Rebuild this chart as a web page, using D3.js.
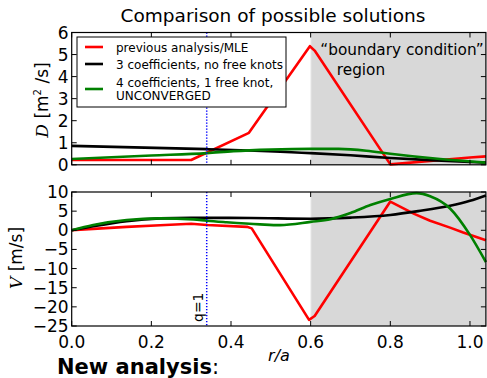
<!DOCTYPE html>
<html>
<head>
<meta charset="utf-8">
<script src="https://cdn.jsdelivr.net/npm/d3@7"></script>
<style>
  html, body { margin: 0; padding: 0; background: #fff; }
  svg { display: block; }
  text { font-family: "DejaVu Sans", sans-serif; fill: #000; }
</style>
</head>
<body>
<svg id="chart" width="487" height="378"></svg>
<script>
// Radial profiles of diffusion D and convection V, three candidate solutions.
const rTicks = [0.0, 0.2, 0.4, 0.6, 0.8, 1.0];
const dTicks = [0, 1, 2, 3, 4, 5, 6];
const vTicks = [-25, -20, -15, -10, -5, 0, 5, 10];

// previous analysis / MLE (piecewise linear)
const dPrev = [[0, 0.22], [0.30, 0.22], [0.445, 1.45], [0.598, 5.38], [0.61, 5.18], [0.80, 0.02], [1.0, 0.33], [1.04, 0.38]];
const vPrev = [[0, 0], [0.054, 0.37], [0.138, 0.9], [0.222, 1.3], [0.30, 1.7], [0.34, 1.4], [0.44, 0.9], [0.452, 0.5], [0.596, -23.4], [0.61, -22.4], [0.80, 7.5], [0.86, 4.3], [0.90, 2.5], [0.95, 0.7], [0.983, -0.6], [1.04, -2.6]];

// 3 coefficients, no free knots
const dThree = [[0, 0.86], [0.34, 0.71], [0.6, 0.53], [0.7, 0.43], [0.8, 0.31], [0.9, 0.21], [1.0, 0.13], [1.04, 0.1]];
const vThree = [[0, 0], [0.054, 1.05], [0.138, 2.4], [0.222, 3.1], [0.30, 3.25], [0.45, 3.2], [0.6, 3.0], [0.7, 3.3], [0.8, 4.0], [0.87, 5.0], [0.95, 6.4], [1.0, 7.7], [1.04, 9.1]];

// 4 coefficients, 1 free knot (unconverged)
const dFour = [[0, 0.26], [0.2, 0.42], [0.34, 0.53], [0.406, 0.62], [0.5, 0.69], [0.6, 0.72], [0.67, 0.72], [0.74, 0.64], [0.8, 0.5], [0.925, 0.26], [1.04, 0.1]];
const vFour = [[0, 0], [0.054, 1.4], [0.138, 2.7], [0.222, 3.1], [0.306, 2.85], [0.339, 2.5], [0.389, 2.1], [0.473, 1.55], [0.523, 1.35], [0.6, 2.2], [0.65, 2.9], [0.7, 4.5], [0.75, 6.6], [0.8, 8.2], [0.866, 9.7], [0.9, 8.9], [0.95, 5.7], [1.0, -1.2], [1.04, -8.3]];

const rSpan = [0.6, 1.04];   // "boundary condition" region
const qOne = 0.339;          // q = 1 surface

const legendLabels = [["previous analysis/MLE"], ["3 coefficients, no free knots"], ["4 coefficients, 1 free knot,", "UNCONVERGED"]];
const colors = ["#ff0000", "#000000", "#008000"];

const svg = d3.select("#chart");
const x = d3.scaleLinear().domain([0, 1.04]).range([71.7, 485.9]);
const yD = d3.scaleLinear().domain([0, 6]).range([164.8, 32.5]);
const yV = d3.scaleLinear().domain([-25, 10]).range([326, 192]);

function panel(y, ticks, series, curves) {
  const [y0, y1] = y.range();
  const g = svg.append("g");
  // shaded region
  g.append("rect")
    .attr("x", x(rSpan[0])).attr("y", y1)
    .attr("width", x(rSpan[1]) - x(rSpan[0])).attr("height", y0 - y1)
    .attr("fill", "#d8d8d8");
  g.append("line")
    .attr("x1", x(rSpan[0])).attr("x2", x(rSpan[0]))
    .attr("y1", y1).attr("y2", y0)
    .attr("stroke", "#f2f2f2").attr("stroke-width", 1.2);
  // curves
  series.forEach((s, i) => {
    const line = d3.line().x(d => x(d[0])).y(d => y(d[1])).curve(curves[i]);
    g.append("path").attr("d", line(s))
      .attr("fill", "none").attr("stroke", colors[i])
      .attr("stroke-width", 2.6).attr("stroke-linejoin", "round");
  });
  // q=1 marker
  g.append("line")
    .attr("x1", x(qOne)).attr("x2", x(qOne)).attr("y1", y1).attr("y2", y0)
    .attr("stroke", "#0000ff").attr("stroke-width", 1.5)
    .attr("stroke-dasharray", "1.2,1.8");
  // inward ticks on all four sides
  const tl = 5;
  rTicks.forEach(t => {
    g.append("line").attr("x1", x(t)).attr("x2", x(t)).attr("y1", y0).attr("y2", y0 - tl).attr("stroke", "#000");
    g.append("line").attr("x1", x(t)).attr("x2", x(t)).attr("y1", y1).attr("y2", y1 + tl).attr("stroke", "#000");
  });
  ticks.forEach(t => {
    g.append("line").attr("x1", x.range()[0]).attr("x2", x.range()[0] + tl).attr("y1", y(t)).attr("y2", y(t)).attr("stroke", "#000");
    g.append("line").attr("x1", x.range()[1]).attr("x2", x.range()[1] - tl).attr("y1", y(t)).attr("y2", y(t)).attr("stroke", "#000");
    g.append("text").attr("x", x.range()[0] - 3).attr("y", y(t) + 6)
      .attr("text-anchor", "end").attr("font-size", 17)
      .text(t < 0 ? "\u2212" + Math.abs(t) : t);
  });
  // frame
  g.append("rect")
    .attr("x", x.range()[0]).attr("y", y1)
    .attr("width", x.range()[1] - x.range()[0]).attr("height", y0 - y1)
    .attr("fill", "none").attr("stroke", "#000").attr("stroke-width", 1.2);
  return g;
}

const dPanel = panel(yD, dTicks, [dPrev, dThree, dFour], [d3.curveLinear, d3.curveMonotoneX, d3.curveMonotoneX]);
const vPanel = panel(yV, vTicks, [vPrev, vThree, vFour], [d3.curveLinear, d3.curveMonotoneX, d3.curveMonotoneX]);

// x tick labels on the lower panel
rTicks.forEach(t => {
  svg.append("text").attr("x", x(t)).attr("y", 348)
    .attr("text-anchor", "middle").attr("font-size", 17).text(t.toFixed(1));
});

// title
svg.append("text").attr("x", 273).attr("y", 22).attr("text-anchor", "middle")
  .attr("font-size", 18.5).text("Comparison of possible solutions");

// axis labels
const dLab = svg.append("text").attr("transform", "translate(48,100) rotate(-90)")
  .attr("text-anchor", "middle").attr("font-size", 17);
dLab.append("tspan").attr("font-family", "DejaVu Serif, serif").attr("font-style", "italic").text("D");
dLab.append("tspan").text(" [m");
dLab.append("tspan").attr("font-size", 10).attr("dy", -7).text("2");
dLab.append("tspan").attr("dy", 7).text(" /s]");

const vLab = svg.append("text").attr("transform", "translate(22,258) rotate(-90)")
  .attr("text-anchor", "middle").attr("font-size", 17);
vLab.append("tspan").attr("font-family", "DejaVu Serif, serif").attr("font-style", "italic").text("V");
vLab.append("tspan").text(" [m/s]");

svg.append("text").attr("x", 279).attr("y", 361).attr("text-anchor", "middle")
  .attr("font-family", "DejaVu Serif, serif").attr("font-style", "italic")
  .attr("font-size", 16).text("r/a");

svg.append("text").attr("transform", `translate(${x(qOne) - 4},322) rotate(-90)`)
  .attr("font-size", 14).text("q=1");

// region annotation
svg.append("text").attr("x", 402).attr("y", 55).attr("text-anchor", "middle")
  .attr("font-family", "Open Sans, sans-serif").attr("font-size", 15.3).attr("fill", "#111")
  .text("\u201Cboundary condition\u201D");
svg.append("text").attr("x", 361).attr("y", 75).attr("text-anchor", "middle")
  .attr("font-family", "Open Sans, sans-serif").attr("font-size", 15.3).attr("fill", "#111")
  .text("region");

// legend
const lg = svg.append("g");
lg.append("rect").attr("x", 77).attr("y", 37).attr("width", 209).attr("height", 70)
  .attr("fill", "#fff").attr("stroke", "#000").attr("stroke-width", 1);
const rowY = [47, 64, 89];
legendLabels.forEach((lab, i) => {
  lg.append("line").attr("x1", 85).attr("x2", 103).attr("y1", rowY[i]).attr("y2", rowY[i])
    .attr("stroke", colors[i]).attr("stroke-width", 2.6);
  const y0 = lab.length > 1 ? rowY[i] - 7 : rowY[i];
  lab.forEach((s, j) => {
    lg.append("text").attr("x", 116).attr("y", y0 + j * 13.5 + 4.5).attr("font-size", 12).text(s);
  });
});

// footer
const na = svg.append("text").attr("x", 57).attr("y", 374).attr("font-size", 21);
na.append("tspan").attr("font-weight", "bold").text("New analysis");
na.append("tspan").text(":");
</script>
</body>
</html>
